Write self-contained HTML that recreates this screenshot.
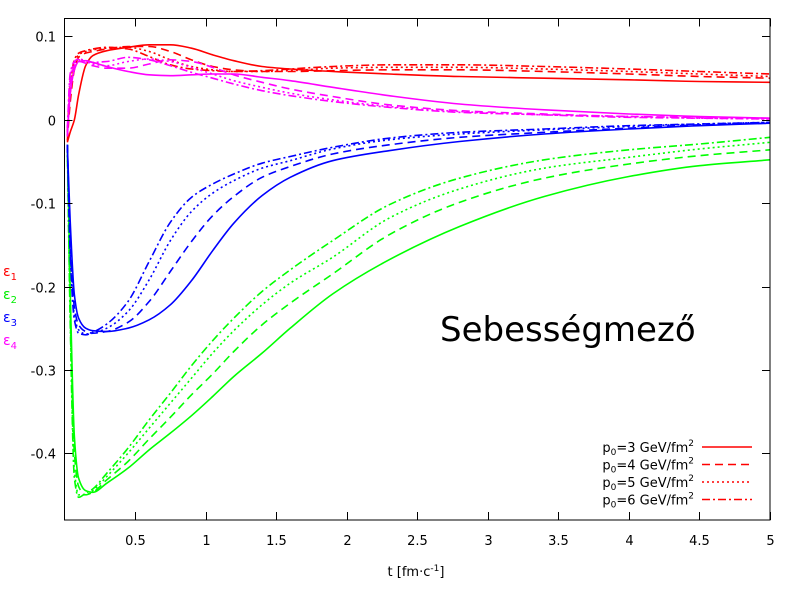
<!DOCTYPE html>
<html><head><meta charset="utf-8"><style>
body{margin:0;background:#fff}
svg text{font-family:"DejaVu Sans","Liberation Sans",sans-serif}
</style></head><body>
<svg id="chart" width="800" height="600" xmlns="http://www.w3.org/2000/svg">
<rect width="800" height="600" fill="#fff"/>
<g id="curves"></g>
<rect x="64.5" y="18.5" width="705.5" height="501.5" fill="none" stroke="#000" stroke-width="1"/>
<g id="axes"></g>
<g font-size="14">
<text x="3" y="276" fill="#ff0000">ε<tspan font-size="10" dy="4">1</tspan></text>
<text x="3" y="299" fill="#00ee00">ε<tspan font-size="10" dy="4">2</tspan></text>
<text x="3" y="322" fill="#0000ff">ε<tspan font-size="10" dy="4">3</tspan></text>
<text x="3" y="345" fill="#ff00ff">ε<tspan font-size="10" dy="4">4</tspan></text>
</g>
<text x="440" y="341" font-size="34" fill="#000">Sebességmező</text>
<text x="416" y="576" font-size="13" text-anchor="middle">t [fm·c<tspan font-size="9" dy="-5">-1</tspan><tspan dy="5">]</tspan></text>
<g id="legend" font-size="13"></g>
</svg>
<script>
const T = [0.02,0.04,0.07,0.1,0.15,0.2,0.3,0.45,0.6,0.75,0.9,1.05,1.2,1.4,1.6,1.9,2.3,2.8,3.4,4,4.5,5];
const pLabels = ["3","4","5","6"];
const eps1_p3 = [-0.027,-0.015,0.0,0.03,0.065,0.077,0.083,0.087,0.09,0.09,0.086,0.078,0.071,0.064,0.061,0.058,0.055,0.052,0.05,0.048,0.046,0.045];
const eps1_p4 = [-0.025,0.02,0.06,0.075,0.08,0.082,0.085,0.088,0.088,0.082,0.072,0.064,0.06,0.058,0.058,0.059,0.06,0.06,0.058,0.055,0.052,0.05];
const eps1_p5 = [-0.02,0.03,0.068,0.078,0.082,0.084,0.086,0.087,0.082,0.072,0.064,0.06,0.058,0.058,0.059,0.062,0.063,0.063,0.061,0.058,0.055,0.052];
const eps1_p6 = [-0.015,0.04,0.072,0.08,0.083,0.085,0.087,0.085,0.076,0.066,0.061,0.059,0.058,0.059,0.061,0.064,0.066,0.066,0.064,0.061,0.058,0.055];
const eps2_p3 = [-0.03,-0.2,-0.38,-0.43,-0.445,-0.447,-0.436,-0.418,-0.396,-0.376,-0.355,-0.332,-0.308,-0.28,-0.25,-0.209,-0.168,-0.128,-0.092,-0.068,-0.055,-0.048];
const eps2_p4 = [-0.03,-0.22,-0.4,-0.44,-0.45,-0.447,-0.432,-0.41,-0.383,-0.357,-0.33,-0.305,-0.278,-0.246,-0.22,-0.185,-0.138,-0.099,-0.07,-0.053,-0.043,-0.036];
const eps2_p5 = [-0.03,-0.23,-0.42,-0.45,-0.45,-0.445,-0.428,-0.4,-0.37,-0.34,-0.31,-0.28,-0.253,-0.222,-0.196,-0.165,-0.118,-0.083,-0.058,-0.045,-0.035,-0.027];
const eps2_p6 = [-0.03,-0.24,-0.43,-0.453,-0.448,-0.443,-0.424,-0.394,-0.36,-0.328,-0.295,-0.265,-0.238,-0.206,-0.18,-0.145,-0.102,-0.07,-0.048,-0.036,-0.029,-0.021];
const eps3_p3 = [-0.03,-0.12,-0.21,-0.238,-0.25,-0.253,-0.254,-0.25,-0.24,-0.222,-0.193,-0.157,-0.124,-0.091,-0.069,-0.049,-0.037,-0.026,-0.017,-0.011,-0.007,-0.004];
const eps3_p4 = [-0.03,-0.14,-0.225,-0.246,-0.254,-0.256,-0.254,-0.243,-0.218,-0.182,-0.146,-0.115,-0.092,-0.069,-0.056,-0.041,-0.03,-0.021,-0.015,-0.01,-0.006,-0.004];
const eps3_p5 = [-0.03,-0.15,-0.235,-0.252,-0.257,-0.256,-0.25,-0.23,-0.192,-0.145,-0.11,-0.088,-0.073,-0.058,-0.049,-0.035,-0.024,-0.017,-0.012,-0.008,-0.005,-0.003];
const eps3_p6 = [-0.03,-0.16,-0.24,-0.256,-0.258,-0.255,-0.245,-0.218,-0.17,-0.123,-0.093,-0.077,-0.065,-0.052,-0.044,-0.033,-0.022,-0.015,-0.011,-0.007,-0.005,-0.003];
const eps4_p3 = [-0.02,0.03,0.06,0.07,0.071,0.069,0.064,0.058,0.054,0.053,0.054,0.055,0.055,0.051,0.047,0.039,0.029,0.019,0.012,0.007,0.004,0.002];
const eps4_p4 = [-0.02,0.04,0.065,0.07,0.068,0.065,0.062,0.062,0.067,0.072,0.07,0.063,0.054,0.045,0.037,0.028,0.018,0.011,0.007,0.004,0.003,0.002];
const eps4_p5 = [-0.015,0.05,0.068,0.072,0.07,0.067,0.065,0.07,0.073,0.07,0.063,0.055,0.047,0.039,0.032,0.024,0.016,0.01,0.006,0.004,0.002,0.001];
const eps4_p6 = [-0.01,0.055,0.07,0.073,0.071,0.069,0.07,0.075,0.072,0.065,0.057,0.05,0.043,0.035,0.029,0.022,0.015,0.009,0.006,0.003,0.002,0.001];
const xTicks = [0.5,1,1.5,2,2.5,3,3.5,4,4.5,5];
const xTickLabels = ["0.5","1","1.5","2","2.5","3","3.5","4","4.5","5"];
const yTicks = [0.1,0,-0.1,-0.2,-0.3,-0.4];
const yTickLabels = ["0.1","0","-0.1","-0.2","-0.3","-0.4"];

const NS="http://www.w3.org/2000/svg";
const X0=64.5,X1=770,Y0=18.5,Y1=520, tMin=0,tMax=5, vMin=-0.4802, vMax=0.1216;
function sx(t){return X0+(t-tMin)/(tMax-tMin)*(X1-X0);}
function sy(v){return Y1-(v-vMin)/(vMax-vMin)*(Y1-Y0);}
function path(vals){
  const xs=T.map(sx), ys=vals.map(sy), n=xs.length;
  const d=[], m=new Array(n);
  for(let i=0;i<n-1;i++) d.push((ys[i+1]-ys[i])/(xs[i+1]-xs[i]));
  m[0]=d[0]; m[n-1]=d[n-2];
  for(let i=1;i<n-1;i++){
    if(d[i-1]*d[i]<=0) m[i]=0;
    else { const h0=xs[i]-xs[i-1], h1=xs[i+1]-xs[i];
      const w1=2*h1+h0, w2=h1+2*h0; m[i]=(w1+w2)/(w1/d[i-1]+w2/d[i]); }
  }
  let s="M"+xs[0].toFixed(2)+","+ys[0].toFixed(2);
  for(let i=0;i<n-1;i++){
    const h=(xs[i+1]-xs[i])/3;
    s+="C"+(xs[i]+h).toFixed(2)+","+(ys[i]+m[i]*h).toFixed(2)+" "+(xs[i+1]-h).toFixed(2)+","+(ys[i+1]-m[i+1]*h).toFixed(2)+" "+xs[i+1].toFixed(2)+","+ys[i+1].toFixed(2);
  }
  return s;
}
const dashes=["","8,5","2,3","8,3,2,3"];
const comps=[
  {name:"eps1",color:"#ff0000",series:[eps1_p3,eps1_p4,eps1_p5,eps1_p6]},
  {name:"eps2",color:"#00ff00",series:[eps2_p3,eps2_p4,eps2_p5,eps2_p6]},
  {name:"eps3",color:"#0000ff",series:[eps3_p3,eps3_p4,eps3_p5,eps3_p6]},
  {name:"eps4",color:"#ff00ff",series:[eps4_p3,eps4_p4,eps4_p5,eps4_p6]}
];
const cg=document.getElementById("curves");
comps.forEach(c=>c.series.forEach((s,k)=>{
  const el=document.createElementNS(NS,"path");
  el.setAttribute("d",path(s));
  el.setAttribute("fill","none");
  el.setAttribute("stroke",c.color);
  el.setAttribute("stroke-width","1.6");
  if(dashes[k]) el.setAttribute("stroke-dasharray",dashes[k]);
  
  
  cg.appendChild(el);
}));
const ag=document.getElementById("axes");
function add(tag,attrs,txt){const e=document.createElementNS(NS,tag);for(const k in attrs)e.setAttribute(k,attrs[k]);if(txt!==undefined)e.textContent=txt;ag.appendChild(e);return e;}
xTicks.forEach((t,i)=>{
  const x=Math.round(sx(t))+0.5;
  const l1=add("line",{x1:x,x2:x,y1:Y1,y2:Y1-8,stroke:"#000"});
  
  
  const l2=add("line",{x1:x,x2:x,y1:Y0,y2:Y0+8,stroke:"#000"});
  
  
  const tx=add("text",{x:x,y:545,"font-size":13,"text-anchor":"middle",fill:"#000"},xTickLabels[i]);
  
  
});
yTicks.forEach((v,i)=>{
  const y=Math.round(sy(v))+0.5;
  const l1=add("line",{x1:X0,x2:X0+8,y1:y,y2:y,stroke:"#000"});
  
  
  const l2=add("line",{x1:X1,x2:X1-8,y1:y,y2:y,stroke:"#000"});
  
  
  const tx=add("text",{x:56,y:y+5,"font-size":13,"text-anchor":"end",fill:"#000"},yTickLabels[i]);
  
  
});
const lg=document.getElementById("legend");
pLabels.forEach((p,k)=>{
  const y=447+k*17.5;
  const t=document.createElementNS(NS,"text");
  t.setAttribute("x",694);t.setAttribute("y",y+5);t.setAttribute("text-anchor","end");
  t.innerHTML='p<tspan font-size="9" dy="3">0</tspan><tspan dy="-3">='+p+' GeV/fm</tspan><tspan font-size="9" dy="-6">2</tspan>';
  
  
  lg.appendChild(t);
  const l=document.createElementNS(NS,"line");
  l.setAttribute("x1",702);l.setAttribute("x2",752);l.setAttribute("y1",y);l.setAttribute("y2",y);
  l.setAttribute("stroke","#ff0000");l.setAttribute("stroke-width","1.6");
  if(dashes[k]) l.setAttribute("stroke-dasharray",dashes[k]);
  
  
  lg.appendChild(l);
});
</script>
</body></html>
